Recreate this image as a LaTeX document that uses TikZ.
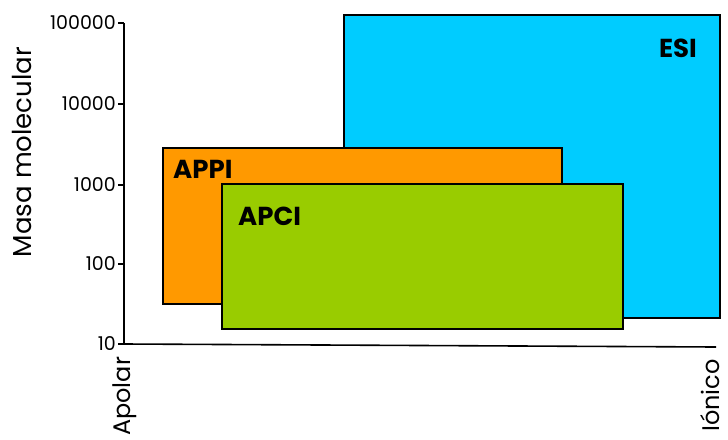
\documentclass[tikz,border=0pt]{standalone}
\usepackage{fontspec}
\setmainfont{Poppins}
\definecolor{esicol}{HTML}{00CCFF}
\definecolor{appicol}{HTML}{FF9900}
\definecolor{apcicol}{HTML}{99CC00}
\begin{document}
\begin{tikzpicture}[x=1pt,y=-1pt,
  region/.style={draw=black,line width=1.6pt,anchor=north west,inner sep=0pt},
  tag/.style={font=\fontsize{26}{28}\selectfont\bfseries,inner sep=0pt},
  ticklab/.style={font=\fontsize{19}{21}\selectfont,anchor=east,inner sep=0pt},
  axis/.style={line width=1.6pt},
  endlab/.style={font=\fontsize{24}{26}\selectfont,rotate=90,inner sep=0pt,anchor=base west}]
\useasboundingbox (0,0) rectangle (728,439);
% method regions
\node[region,fill=esicol,minimum width=376pt,minimum height=303pt] (esi) at (343,14) {};
\node[region,fill=appicol,minimum width=399pt,minimum height=156pt] (appi) at (162,147) {};
\node[region,fill=apcicol,minimum width=401pt,minimum height=145pt] (apci) at (221,183) {};
\node[tag,anchor=base east] (esil) at (697,57) {ESI};
\node[tag,anchor=base west] (appil) at (173,178) {APPI};
\node[tag,anchor=base west] (apcil) at (238,225) {APCI};
% axes
\coordinate (top) at (124,23);
\coordinate (orig) at (124,344);
\coordinate (xend) at (716,347);
\draw[axis] (top) -- (orig) -- (xend);
% ticks and labels
\foreach \yy/\lab [count=\i] in {23/100000,104/10000,185/1000,264/100,344/10}{
  \coordinate (t\i) at (124,\yy);
  \draw[axis] (t\i) -- ++(-6,0);
  \node[ticklab] (l\i) at (116,\yy) {\lab};
}
\node[font=\fontsize{26}{28}\selectfont,rotate=90,inner sep=0pt] (ylab) at (22,152) {Masa molecular};
\node[endlab] (apolar) at (130,436) {Apolar};
\node[endlab] (ionico) at (719,432) {Iónico};
\end{tikzpicture}
\end{document}
